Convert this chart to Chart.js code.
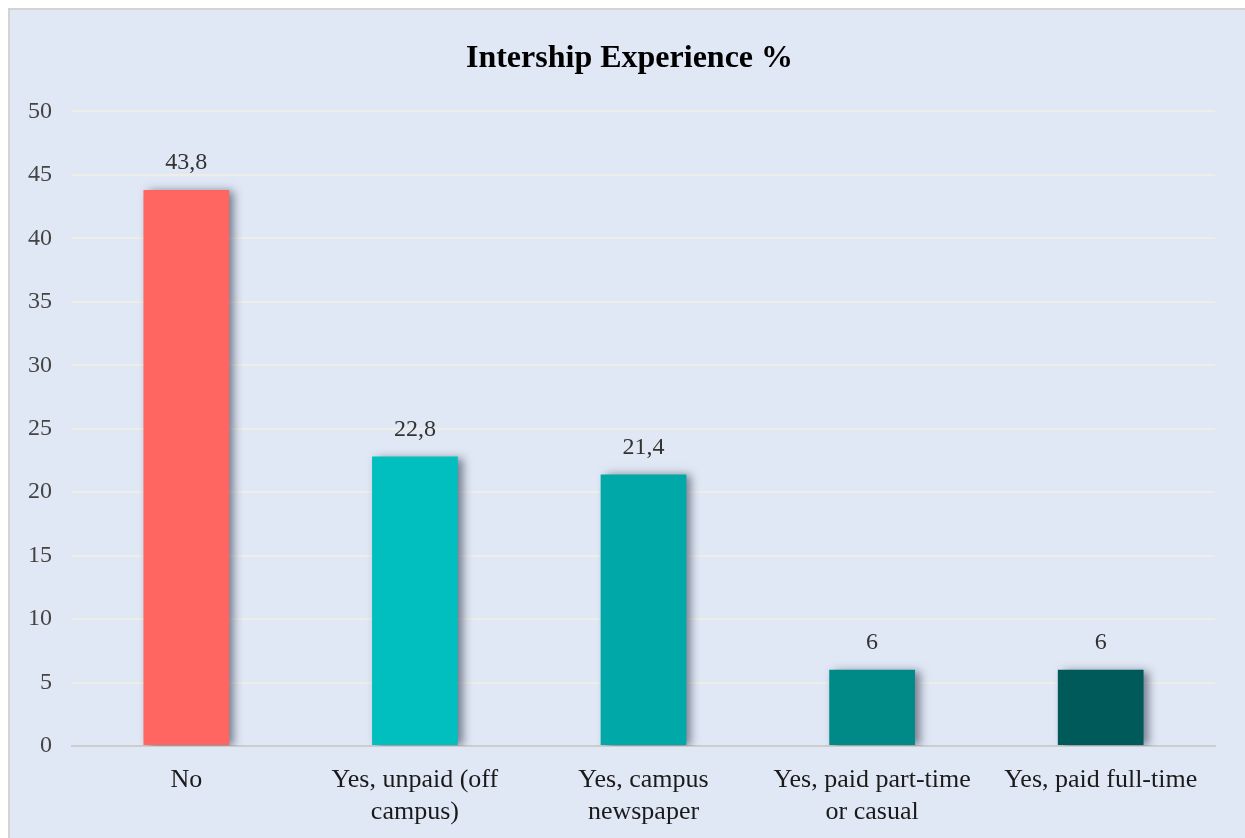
<!DOCTYPE html>
<html>
<head>
<meta charset="utf-8">
<script src="https://cdn.jsdelivr.net/npm/chart.js@4/dist/chart.umd.min.js"></script>
<style>
  html,body{margin:0;padding:0;background:#ffffff;width:1245px;height:838px;overflow:hidden;}
  #frame{position:absolute;left:8px;top:8px;right:0;bottom:0;background:#E1E8F5;border-left:2px solid #d3d3d3;border-top:2px solid #d3d3d3;}
  #wrap{position:absolute;left:0;top:0;width:1245px;height:838px;}
</style>
</head>
<body>
<div id="frame"></div>
<div id="wrap"><canvas id="c" width="1245" height="838"></canvas></div>
<script>
const categories = ["No", ["Yes, unpaid (off", "campus)"], ["Yes, campus", "newspaper"], ["Yes, paid part-time", "or casual"], "Yes, paid full-time"];
const values = [43.8, 22.8, 21.4, 6, 6];
const barColors = ["#FF6661", "#00BFBE", "#00A8A8", "#008A87", "#005A5A"];
const yTicks = [0, 5, 10, 15, 20, 25, 30, 35, 40, 45, 50];
const titleText = "Intership Experience %";

const FONT = "'Liberation Serif', 'Times New Roman', serif";

const shadowPlugin = {
  id: 'barShadow',
  beforeDatasetsDraw(chart) {
    const ctx = chart.ctx;
    ctx.save();
    ctx.shadowColor = 'rgba(40,50,70,0.6)';
    ctx.shadowBlur = 9;
    ctx.shadowOffsetX = 5;
    ctx.shadowOffsetY = 1;
  },
  afterDatasetsDraw(chart) {
    chart.ctx.restore();
  }
};

const titleShift = {
  id: 'titleShift',
  afterLayout(chart) {
    if (chart.titleBlock) chart.titleBlock.left += 44;
  }
};

const labelPlugin = {
  id: 'valueLabels',
  afterDatasetsDraw(chart) {
    const ctx = chart.ctx;
    const meta = chart.getDatasetMeta(0);
    ctx.save();
    ctx.font = "24px " + FONT;
    ctx.fillStyle = '#333333';
    ctx.textAlign = 'center';
    ctx.textBaseline = 'middle';
    meta.data.forEach((bar, i) => {
      const txt = String(values[i]).replace('.', ',');
      ctx.fillText(txt, bar.x, bar.y - 27);
    });
    ctx.restore();
  }
};

new Chart(document.getElementById('c'), {
  type: 'bar',
  data: {
    labels: categories,
    datasets: [{
      data: values,
      backgroundColor: barColors,
      borderWidth: 0,
      barPercentage: 0.75,
      categoryPercentage: 0.5
    }]
  },
  options: {
    responsive: false,
    animation: false,
    layout: { padding: { left: 0, right: 30, top: 0, bottom: 0 } },
    plugins: {
      legend: { display: false },
      tooltip: { enabled: false },
      title: {
        display: true,
        text: titleText,
        color: '#000000',
        font: { family: FONT, size: 32, weight: 'bold', lineHeight: 1.2 },
        padding: { top: 40, bottom: 33 }
      }
    },
    scales: {
      x: {
        grid: { display: false, drawTicks: false },
        border: { display: true, color: '#cdcdcd', width: 2 },
        ticks: {
          color: '#1a1a1a',
          font: { family: FONT, size: 26, lineHeight: 1.23 },
          padding: 18,
          maxRotation: 0,
          autoSkip: false
        },
        afterFit(scale) { scale.height = 92; }
      },
      y: {
        min: 0,
        max: 50,
        afterBuildTicks(scale) { scale.ticks = yTicks.map(v => ({ value: v })); },
        grid: {
          color: (c) => c.tick && c.tick.value === 0 ? '#cdcdcd' : '#EEEDE8',
          lineWidth: 2,
          drawTicks: false
        },
        border: { display: false },
        ticks: {
          color: '#444444',
          font: { family: FONT, size: 24 },
          padding: 20
        },
        afterFit(scale) { scale.width = 72; }
      }
    }
  },
  plugins: [shadowPlugin, labelPlugin, titleShift]
});
</script>
</body>
</html>
